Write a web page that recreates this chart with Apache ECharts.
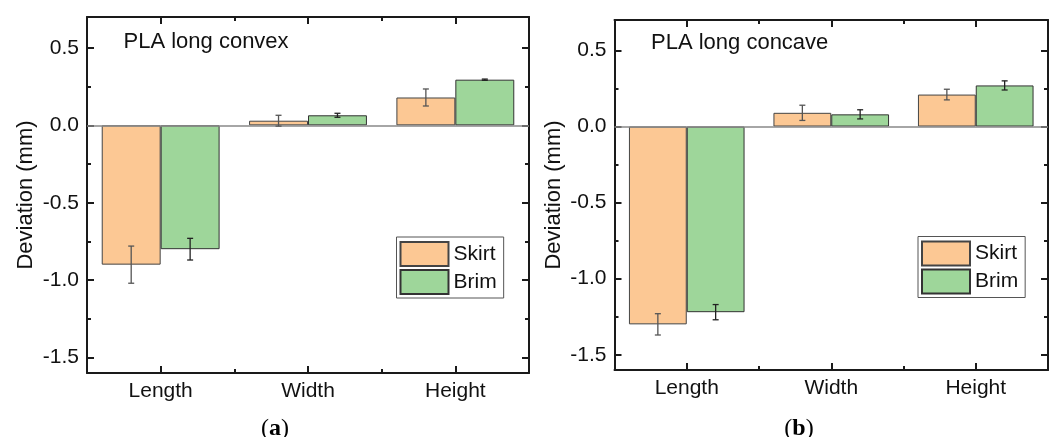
<!DOCTYPE html>
<html>
<head>
<meta charset="utf-8">
<script src="https://cdn.jsdelivr.net/npm/echarts@6/dist/echarts.min.js"></script>
<style>
html,body{margin:0;padding:0;background:#fff;}
#chart{width:1060px;height:437px;}
</style>
</head>
<body>
<div id="chart"></div>
<script>
// ---- data ----
var categories = ['Length', 'Width', 'Height'];
var convexSkirt = [-0.90, 0.03, 0.18];
var convexSkirtErr = [0.12, 0.035, 0.055];
var convexBrim = [-0.80, 0.065, 0.295];
var convexBrimErr = [0.07, 0.013, 0.004];
var concaveSkirt = [-1.30, 0.09, 0.21];
var concaveSkirtErr = [0.07, 0.05, 0.035];
var concaveBrim = [-1.22, 0.08, 0.27];
var concaveBrimErr = [0.05, 0.03, 0.03];
var yMajorTicks = [-1.5, -1.0, -0.5, 0.0, 0.5];
var yMinorTicks = [-1.25, -0.75, -0.25, 0.25];
var panelTitles = ['PLA long convex', 'PLA long concave'];
var seriesNames = ['Skirt', 'Brim'];

var FONT = 'Liberation Sans, Arial, sans-serif';
var TXT = '#111';
var AX = '#1a1a1a';
var AXW = 2;
var SKIRT = '#FCC894';
var BRIM = '#9ED69A';

var chart = echarts.init(document.getElementById('chart'));

var grids = [
  {left: 87, top: 17, width: 442, height: 356},
  {left: 614.5, top: 20, width: 433.5, height: 350}
];

var xAxes = [], yAxes = [];
grids.forEach(function (g, gi) {
  xAxes.push({type: 'category', gridIndex: gi, position: 'bottom', data: categories,
    axisLine: {show: true, onZero: false, lineStyle: {color: AX, width: AXW}},
    axisTick: {show: true, inside: true, alignWithLabel: true, length: 7, lineStyle: {color: AX, width: AXW}},
    axisLabel: {show: true, margin: 8, fontSize: 21, color: TXT, fontFamily: FONT},
    splitLine: {show: false}});
  xAxes.push({type: 'category', gridIndex: gi, position: 'bottom', data: categories,
    axisLine: {show: false, onZero: false},
    axisTick: {show: true, inside: true, length: 4, lineStyle: {color: AX, width: AXW}},
    axisLabel: {show: false}, splitLine: {show: false}});
  xAxes.push({type: 'category', gridIndex: gi, position: 'top', data: categories,
    axisLine: {show: true, onZero: false, lineStyle: {color: AX, width: AXW}},
    axisTick: {show: true, inside: true, alignWithLabel: true, length: 7, lineStyle: {color: AX, width: AXW}},
    axisLabel: {show: false}, splitLine: {show: false}});
  xAxes.push({type: 'category', gridIndex: gi, position: 'top', data: categories,
    axisLine: {show: false, onZero: false},
    axisTick: {show: true, inside: true, length: 4, lineStyle: {color: AX, width: AXW}},
    axisLabel: {show: false}, splitLine: {show: false}});

  var yBase = {type: 'value', gridIndex: gi, min: -1.6, max: 0.7, splitLine: {show: false}};
  yAxes.push(Object.assign({}, yBase, {position: 'left',
    name: 'Deviation (mm)', nameLocation: 'middle', nameGap: 50, nameRotate: 90,
    nameTextStyle: {fontSize: 22, color: TXT, fontFamily: FONT},
    axisLine: {show: true, onZero: false, lineStyle: {color: AX, width: AXW}},
    axisTick: {show: true, inside: true, length: 7, customValues: yMajorTicks, lineStyle: {color: AX, width: AXW}},
    axisLabel: {show: true, margin: 8, fontSize: 21, color: TXT, fontFamily: FONT,
      customValues: yMajorTicks, formatter: function (v) { return v.toFixed(1); }}}));
  yAxes.push(Object.assign({}, yBase, {position: 'left',
    axisLine: {show: false, onZero: false},
    axisTick: {show: true, inside: true, length: 4, customValues: yMinorTicks, lineStyle: {color: AX, width: AXW}},
    axisLabel: {show: false}}));
  yAxes.push(Object.assign({}, yBase, {position: 'right',
    axisLine: {show: true, onZero: false, lineStyle: {color: AX, width: AXW}},
    axisTick: {show: true, inside: true, length: 7, customValues: yMajorTicks, lineStyle: {color: AX, width: AXW}},
    axisLabel: {show: false}}));
  yAxes.push(Object.assign({}, yBase, {position: 'right',
    axisLine: {show: false, onZero: false},
    axisTick: {show: true, inside: true, length: 4, customValues: yMinorTicks, lineStyle: {color: AX, width: AXW}},
    axisLabel: {show: false}}));
});

function errRender(sign, color) {
  return function (params, api) {
    var x = api.value(0), v = api.value(1), e = api.value(2);
    var catW = api.size([1, 0])[0];
    var bw = catW * 0.8 / 2;
    var c = api.coord([x, v]);
    var cx = c[0] + sign * bw / 2;
    var hi = api.coord([x, v + e])[1];
    var lo = api.coord([x, v - e])[1];
    var cap = 3;
    var st = {stroke: color, lineWidth: 1.3};
    return {type: 'group', children: [
      {type: 'line', shape: {x1: cx, y1: hi, x2: cx, y2: lo}, style: st},
      {type: 'line', shape: {x1: cx - cap, y1: hi, x2: cx + cap, y2: hi}, style: st},
      {type: 'line', shape: {x1: cx - cap, y1: lo, x2: cx + cap, y2: lo}, style: st}
    ]};
  };
}

function errData(vals, errs) {
  return vals.map(function (v, i) { return [i, v, errs[i]]; });
}

var panels = [
  {skirt: convexSkirt, skirtErr: convexSkirtErr, brim: convexBrim, brimErr: convexBrimErr},
  {skirt: concaveSkirt, skirtErr: concaveSkirtErr, brim: concaveBrim, brimErr: concaveBrimErr}
];

var series = [];
panels.forEach(function (p, gi) {
  var xi = gi * 4, yi = gi * 4;
  series.push({type: 'bar', name: seriesNames[0], xAxisIndex: xi, yAxisIndex: yi, data: p.skirt,
    barGap: '0%', barCategoryGap: '20%',
    itemStyle: {color: SKIRT, borderColor: '#444', borderWidth: 1},
    markLine: {silent: true, symbol: 'none', label: {show: false},
      lineStyle: {color: '#888', width: 1.5, type: 'solid'}, data: [{yAxis: 0}]}});
  series.push({type: 'bar', name: seriesNames[1], xAxisIndex: xi, yAxisIndex: yi, data: p.brim,
    barGap: '0%', barCategoryGap: '20%',
    itemStyle: {color: BRIM, borderColor: '#333', borderWidth: 1}});
  series.push({type: 'custom', name: 'SkirtErr', xAxisIndex: xi, yAxisIndex: yi, z: 5,
    renderItem: errRender(-1, '#555'), data: errData(p.skirt, p.skirtErr)});
  series.push({type: 'custom', name: 'BrimErr', xAxisIndex: xi, yAxisIndex: yi, z: 5,
    renderItem: errRender(1, '#222'), data: errData(p.brim, p.brimErr)});
});

function legendAt(left, top) {
  return {data: seriesNames, left: left, top: top, orient: 'vertical',
    itemWidth: 48, itemHeight: 24, itemGap: 2, padding: [4, 7, 3, 3],
    borderColor: '#555', borderWidth: 1, selectedMode: false, icon: 'rect',
    textStyle: {fontSize: 21, color: TXT, fontFamily: FONT, lineHeight: 24}};
}

var SERIF = 'Liberation Serif, Times New Roman, serif';
var option = {
  backgroundColor: '#fff',
  animation: false,
  grid: grids,
  xAxis: xAxes,
  yAxis: yAxes,
  legend: [legendAt(396.5, 237), legendAt(918, 236.5)],
  title: [
    {text: panelTitles[0], left: 123.5, top: 30.7, padding: 0,
      textStyle: {fontSize: 22, fontWeight: 'normal', color: TXT, fontFamily: FONT}},
    {text: panelTitles[1], left: 651, top: 32, padding: 0,
      textStyle: {fontSize: 22, fontWeight: 'normal', color: TXT, fontFamily: FONT}}
  ],
  graphic: [
    {type: 'text', x: 275, y: 429, style: {text: '({b|a})', align: 'center', verticalAlign: 'middle',
      font: '24px ' + SERIF, fill: '#000',
      rich: {b: {fontWeight: 'bold', fontSize: 24, fontFamily: SERIF}}}},
    {type: 'text', x: 799, y: 429, style: {text: '({b|b})', align: 'center', verticalAlign: 'middle',
      font: '24px ' + SERIF, fill: '#000',
      rich: {b: {fontWeight: 'bold', fontSize: 24, fontFamily: SERIF}}}}
  ],
  series: series
};
chart.setOption(option);
</script>
</body>
</html>
